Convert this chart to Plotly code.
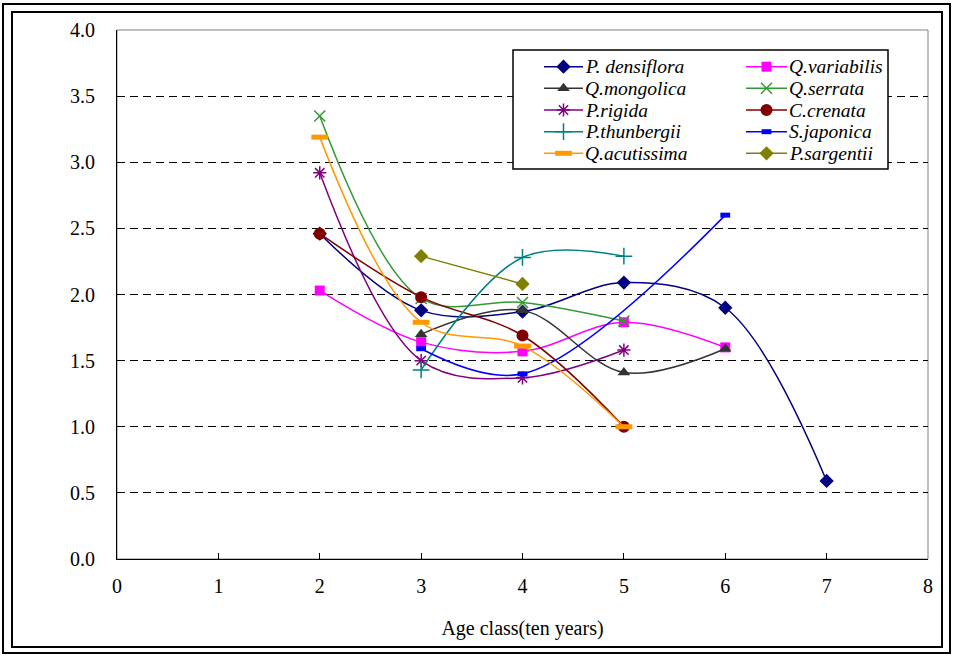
import plotly.graph_objects as go

# ---- data ----
age = [2, 3, 4, 5, 6, 7]
P_densiflora = [2.46, 1.88, 1.87, 2.09, 1.90, 0.59]
Q_variabilis = [2.03, 1.64, 1.57, 1.79, 1.60, None]
Q_mongolica = [None, 1.70, 1.88, 1.41, 1.59, None]
Q_serrata = [3.35, 1.97, 1.94, 1.80, None, None]
P_rigida = [2.92, 1.50, 1.37, 1.58, None, None]
C_crenata = [2.46, 1.98, 1.69, 1.00, None, None]
P_thunbergii = [None, 1.43, 2.28, 2.29, None, None]
S_japonica = [None, 1.59, 1.40, None, 2.60, None]
Q_acutissima = [3.19, 1.79, 1.61, 1.00, None, None]
P_sargentii = [None, 2.29, 2.08, None, None, None]

names = ["P. densiflora", "Q.variabilis", "Q.mongolica", "Q.serrata", "P.rigida",
         "C.crenata", "P.thunbergii", "S.japonica", "Q.acutissima", "P.sargentii"]
values = [P_densiflora, Q_variabilis, Q_mongolica, Q_serrata, P_rigida,
          C_crenata, P_thunbergii, S_japonica, Q_acutissima, P_sargentii]

# ---- styles ----
colors = ["#000080", "#FF00FF", "#333333", "#339933", "#800080",
          "#800000", "#008080", "#0000FF", "#FF9900", "#808000"]
symbols = ["diamond", "square", "triangle-up", "x-thin-open", "asterisk-open",
           "circle", "cross-thin-open", "line-ew-open", "line-ew-open", "diamond"]
sizes = [11, 10, 11, 11, 11, 12, 12, 7, 12, 11]
mlw = [0, 0, 0, 1.5, 1.5, 0, 1.5, 5, 5, 0]

FONT = "Liberation Serif"
W, H = 953, 658
L, R, T, B = 117, 25, 30, 99
PW, PH = W - L - R, H - T - B
XMAX, YMAX = 8, 4


def px(x):
    return (x - L) / PW


def py(y):
    return (H - B - y) / PH


fig = go.Figure()


def marker_for(i):
    m = dict(symbol=symbols[i], size=sizes[i], color=colors[i])
    if mlw[i]:
        m["line"] = dict(color=colors[i], width=mlw[i])
    else:
        m["line"] = dict(width=0)
    return m


for i, (n, v) in enumerate(zip(names, values)):
    xs = [a for a, y in zip(age, v) if y is not None]
    ys = [y for y in v if y is not None]
    fig.add_trace(go.Scatter(
        x=xs, y=ys, name=n, mode="lines+markers",
        line=dict(color=colors[i], width=1.5, shape="spline", smoothing=1),
        marker=marker_for(i), showlegend=False, cliponaxis=False,
    ))

# ---- hand-placed legend on an overlay pixel axis ----
rows = [66.7, 88.3, 110.0, 131.7, 153.3]
cols = [(544, 583, 583), (746, 787, 787)]
for i, n in enumerate(names):
    c = i % 2
    r = i // 2
    x0, x1, xt = cols[c]
    yy = rows[r]
    fig.add_trace(go.Scatter(
        x=[x0 - L, x1 - L], y=[yy - T, yy - T], mode="lines",
        line=dict(color=colors[i], width=1.5), xaxis="x2", yaxis="y2",
        showlegend=False, hoverinfo="skip"))
    fig.add_trace(go.Scatter(
        x=[(x0 + x1) / 2 - L], y=[yy - T], mode="markers",
        marker=marker_for(i), xaxis="x2", yaxis="y2",
        showlegend=False, hoverinfo="skip"))
    fig.add_annotation(
        x=xt - L, y=yy - T, xref="x2", yref="y2", text="<i>" + n + "</i>",
        showarrow=False, xanchor="left", yanchor="middle",
        font=dict(family=FONT, size=19.5, color="black"))

shapes = [
    # outer double frame
    dict(type="rect", xref="paper", yref="paper", x0=px(3), x1=px(950), y0=py(653), y1=py(4),
         line=dict(color="black", width=2), layer="below"),
    dict(type="rect", xref="paper", yref="paper", x0=px(12), x1=px(942), y0=py(647), y1=py(12),
         line=dict(color="black", width=2), layer="below"),
    # plot area border
    dict(type="rect", xref="paper", yref="paper", x0=0, x1=1, y0=0, y1=1,
         line=dict(color="#808080", width=1), layer="below"),
    # legend box (covers gridlines, sits under the traces)
    dict(type="rect", xref="x", yref="y",
         x0=px(513) * XMAX, x1=px(888) * XMAX, y0=py(169) * YMAX, y1=py(50) * YMAX,
         line=dict(color="black", width=1.5), fillcolor="white", layer="between"),
]

fig.update_layout(
    width=W, height=H, autosize=False,
    margin=dict(l=L, r=R, t=T, b=B, pad=0),
    paper_bgcolor="white", plot_bgcolor="white",
    font=dict(family=FONT, size=20, color="black"),
    shapes=shapes,
    showlegend=False,
    xaxis=dict(range=[0, XMAX], dtick=1, tick0=0, ticks="inside", ticklen=6, tickcolor="black",
               showline=True, linecolor="black", linewidth=1, showgrid=False, zeroline=False,
               tickfont=dict(family=FONT, size=20), ticklabelstandoff=9,
               title=dict(text="Age class(ten years)", font=dict(family=FONT, size=20), standoff=24)),
    yaxis=dict(range=[0, YMAX], dtick=0.5, tick0=0, tickformat=".1f", ticks="",
               showline=True, linecolor="black", linewidth=1, zeroline=False,
               showgrid=True, gridcolor="black", gridwidth=1, griddash="8px,5px",
               tickfont=dict(family=FONT, size=20), ticklabelstandoff=17),
    xaxis2=dict(overlaying="x", range=[0, PW], visible=False, fixedrange=True),
    yaxis2=dict(overlaying="y", range=[PH, 0], visible=False, fixedrange=True),
)

fig.write_html("out.html")
